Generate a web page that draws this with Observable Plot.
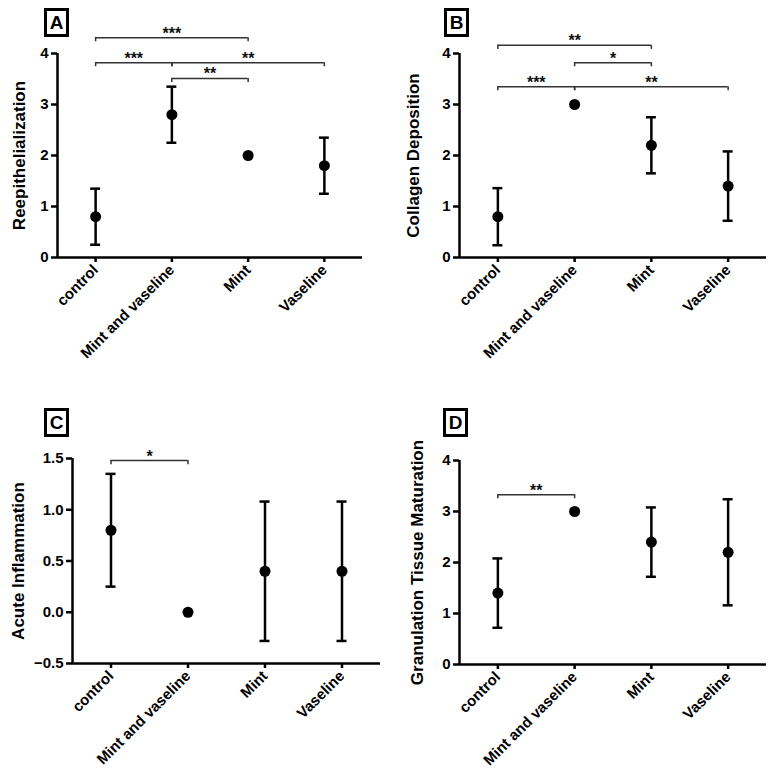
<!DOCTYPE html>
<html>
<head>
<meta charset="utf-8">
<script src="https://cdn.jsdelivr.net/npm/d3@7"></script>
<script src="https://cdn.jsdelivr.net/npm/@observablehq/plot@0.6"></script>
<style>
  body { margin: 0; background: #fff; font-family: Arial, "Liberation Sans", sans-serif; }
  #wrap { position: relative; width: 772px; height: 774px; overflow: hidden; }
  .panel { position: absolute; width: 386px; height: 387px; }
  .panel svg { overflow: visible; }
  .tag { position: absolute; box-sizing: border-box; width: 25px; height: 29px; border: 3px solid #000;
         font: bold 19px Arial, "Liberation Sans", sans-serif; line-height: 23px; text-align: center; color: #000; }
</style>
</head>
<body>
<div id="wrap"></div>
<script>
// ---- data ----
const categories = ["control", "Mint and vaseline", "Mint", "Vaseline"];

const reepMean = [0.8, 2.8, 2.0, 1.8];
const reepErr  = [0.55, 0.55, 0, 0.55];
const collMean = [0.8, 3.0, 2.2, 1.4];
const collErr  = [0.56, 0, 0.55, 0.68];
const inflMean = [0.8, 0.0, 0.4, 0.4];
const inflErr  = [0.55, 0, 0.68, 0.68];
const granMean = [1.4, 3.0, 2.4, 2.2];
const granErr  = [0.68, 0, 0.68, 1.04];

const ticks04 = [0, 1, 2, 3, 4];
const ticksC  = [-0.5, 0, 0.5, 1.0, 1.5];

// significance brackets: from, to, bracket level (y value), label
const sigA = [
  {from: "control", to: "Mint", level: 4.31, label: "***"},
  {from: "control", to: "Mint and vaseline", level: 3.82, label: "***"},
  {from: "Mint and vaseline", to: "Vaseline", level: 3.82, label: "**"},
  {from: "Mint and vaseline", to: "Mint", level: 3.51, label: "**"}
];
const sigB = [
  {from: "control", to: "Mint", level: 4.16, label: "**"},
  {from: "Mint and vaseline", to: "Mint", level: 3.82, label: "*"},
  {from: "control", to: "Mint and vaseline", level: 3.35, label: "***"},
  {from: "Mint and vaseline", to: "Vaseline", level: 3.35, label: "**"}
];
const sigC = [
  {from: "control", to: "Mint and vaseline", level: 1.48, label: "*"}
];
const sigD = [
  {from: "control", to: "Mint and vaseline", level: 3.33, label: "**"}
];

// ---- drawing ----
const idx = c => categories.indexOf(c);
const FONT = "Arial, 'Liberation Sans', sans-serif";

function panel({tag, title, mean, err, sig, yDomain, yTicks, yFormat, left, top, margins, titleX, tagPos}) {
  const rows = categories.map((c, i) => ({i, cat: c, mean: mean[i], err: err[i], lo: mean[i] - err[i], hi: mean[i] + err[i]}));
  const bars = rows.filter(d => d.err > 0);
  const span = yDomain[1] - yDomain[0];
  const drop = span * 0.02;
  const ends = sig.flatMap(s => [{x: idx(s.from), y: s.level}, {x: idx(s.to), y: s.level}]);
  const cap = 0.065;

  const chart = Plot.plot({
    width: 386, height: 387,
    marginLeft: margins[0], marginRight: margins[1], marginTop: margins[2], marginBottom: margins[3],
    x: {domain: [-0.5, 3.5]},
    y: {domain: yDomain},
    style: {fontFamily: FONT, background: "transparent", color: "#000"},
    marks: [
      Plot.axisX({ticks: [0, 1, 2, 3], tickFormat: i => categories[i], tickRotate: -45, tickSize: 5, tickPadding: 5,
                  fontSize: 15, fontWeight: "bold", strokeWidth: 2.5, label: null}),
      Plot.axisY({ticks: yTicks, tickFormat: yFormat, tickSize: 6, tickPadding: 3,
                  fontSize: 15, fontWeight: "bold", strokeWidth: 2.5, label: null}),
      Plot.ruleY([yDomain[0]], {strokeWidth: 2.5, stroke: "#000"}),
      Plot.ruleX([-0.5], {strokeWidth: 2.5, stroke: "#000"}),
      // error bars
      Plot.ruleX(bars, {x: "i", y1: "lo", y2: "hi", strokeWidth: 2.5, stroke: "#000"}),
      Plot.ruleY(bars, {y: "hi", x1: d => d.i - cap, x2: d => d.i + cap, strokeWidth: 2.5, stroke: "#000"}),
      Plot.ruleY(bars, {y: "lo", x1: d => d.i - cap, x2: d => d.i + cap, strokeWidth: 2.5, stroke: "#000"}),
      Plot.dot(rows, {x: "i", y: "mean", r: 5.5, fill: "#000", stroke: null}),
      // significance brackets
      Plot.ruleY(sig, {y: "level", x1: d => idx(d.from), x2: d => idx(d.to), stroke: "#333", strokeWidth: 1.5}),
      Plot.ruleX(ends, {x: "x", y1: "y", y2: d => d.y - drop, stroke: "#333", strokeWidth: 1.5}),
      Plot.text(sig, {x: d => (idx(d.from) + idx(d.to)) / 2, y: "level", text: "label", lineAnchor: "bottom", dy: 1,
                      fontSize: 16, fontWeight: "bold", fill: "#111"}),
      // y-axis title
      Plot.text([title], {frameAnchor: "left", rotate: -90, textAnchor: "middle", lineAnchor: "bottom",
                          dx: titleX - margins[0], fontSize: 17, fontWeight: "bold", fill: "#000"})
    ]
  });

  const div = document.createElement("div");
  div.className = "panel";
  div.style.left = left + "px";
  div.style.top = top + "px";
  div.appendChild(chart);
  const t = document.createElement("div");
  t.className = "tag";
  t.textContent = tag;
  t.style.left = tagPos[0] + "px";
  t.style.top = tagPos[1] + "px";
  div.appendChild(t);
  document.getElementById("wrap").appendChild(div);
}

const intFmt = d3.format("d");
const decFmt = d3.format(".1f");

panel({tag: "A", title: "Reepithelialization", mean: reepMean, err: reepErr, sig: sigA,
       yDomain: [0, 4], yTicks: ticks04, yFormat: intFmt, left: 0, top: 0,
       margins: [57, 24, 53, 130], titleX: 24, tagPos: [44, 8]});
panel({tag: "B", title: "Collagen Deposition", mean: collMean, err: collErr, sig: sigB,
       yDomain: [0, 4], yTicks: ticks04, yFormat: intFmt, left: 386, top: 0,
       margins: [73, 6, 53, 130], titleX: 32, tagPos: [58, 8]});
panel({tag: "C", title: "Acute Inflammation", mean: inflMean, err: inflErr, sig: sigC,
       yDomain: [-0.5, 1.5], yTicks: ticksC, yFormat: decFmt, left: 0, top: 387,
       margins: [72, 6, 71, 111], titleX: 23, tagPos: [44, 21]});
panel({tag: "D", title: "Granulation Tissue Maturation", mean: granMean, err: granErr, sig: sigD,
       yDomain: [0, 4], yTicks: ticks04, yFormat: intFmt, left: 386, top: 387,
       margins: [73, 6, 73, 110], titleX: 36, tagPos: [57, 21]});
</script>
</body>
</html>
